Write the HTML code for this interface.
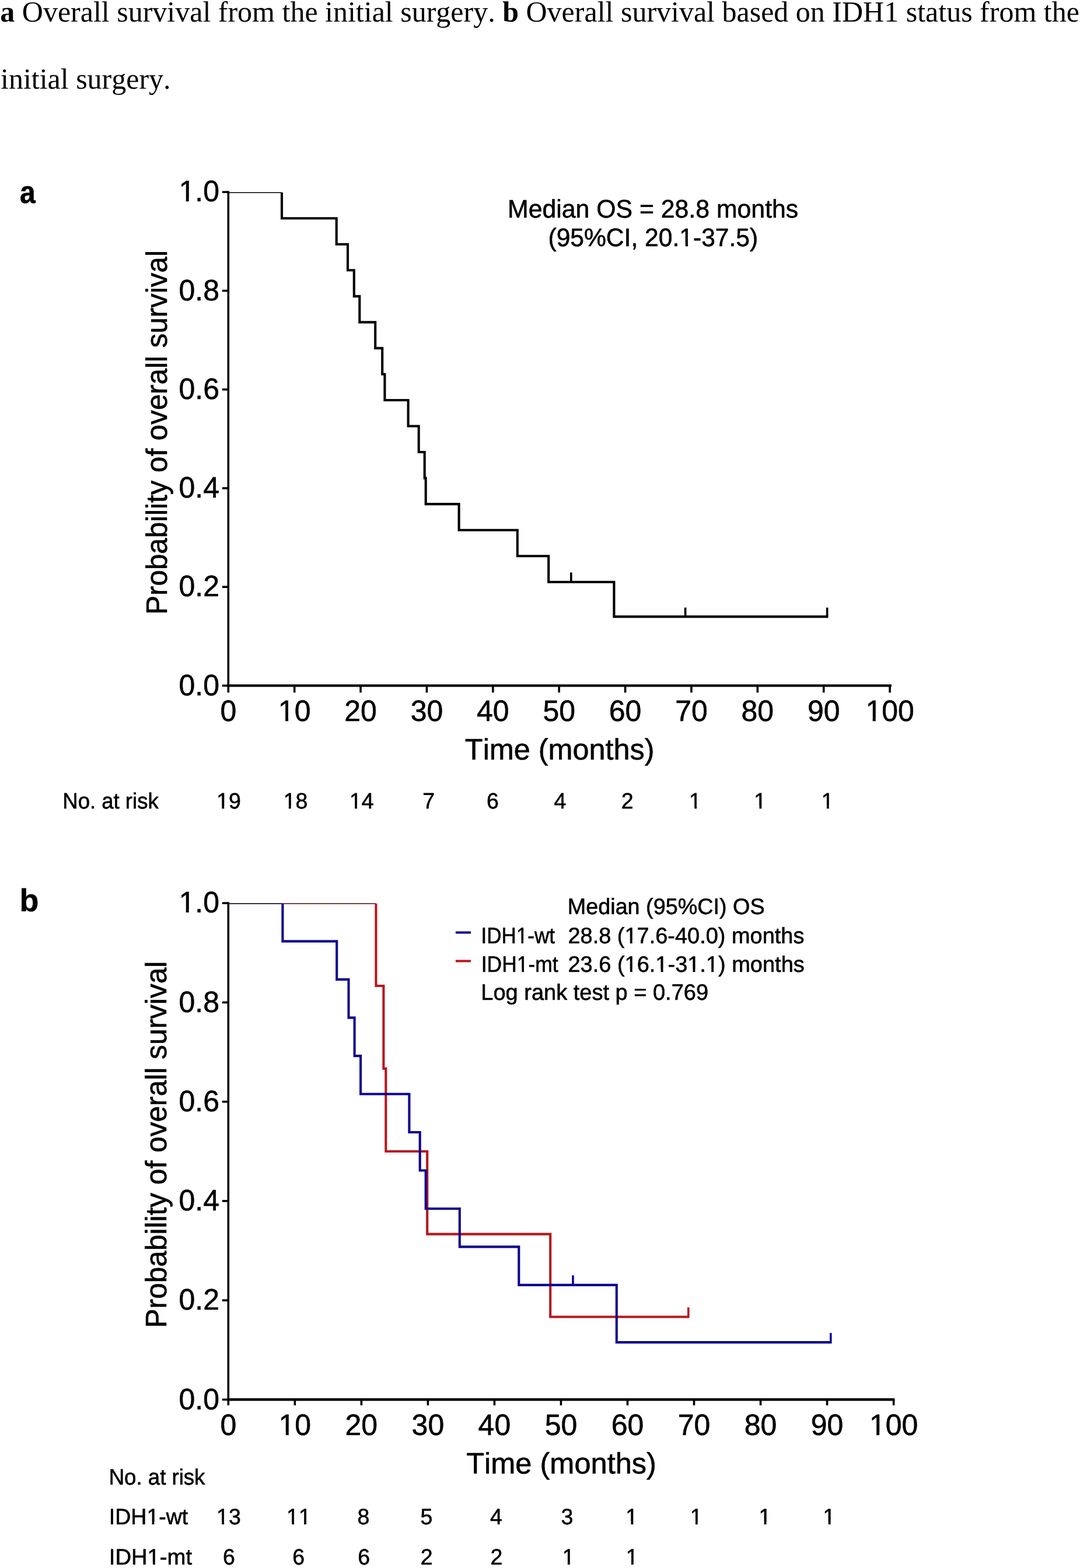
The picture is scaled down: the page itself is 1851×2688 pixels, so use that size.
<!DOCTYPE html>
<html><head><meta charset="utf-8"><title>Kaplan-Meier overall survival</title>
<style>
html,body{margin:0;padding:0;background:#fff;}
body{width:1851px;height:2688px;overflow:hidden;}
svg{display:block;font-kerning:none;text-rendering:geometricPrecision;}
</style></head>
<body>
<svg xmlns="http://www.w3.org/2000/svg" width="1851" height="2688" viewBox="0 0 1851 2688">
<rect width="1851" height="2688" fill="#fff"/>
<text x="0.3" y="36.7" font-family="'Liberation Serif', 'Times New Roman', Times, serif" font-size="50" fill="#000"><tspan font-weight="bold">a</tspan> Overall survival from the initial surgery. <tspan font-weight="bold">b</tspan> Overall survival based on IDH1 status from the</text>
<text x="1.0" y="151.7" font-family="'Liberation Serif', 'Times New Roman', Times, serif" font-size="50" fill="#000">initial surgery.</text>
<g font-family="'Liberation Sans', Arial, Helvetica, sans-serif" stroke="#000" stroke-width="0.6" stroke-linejoin="round">
<text transform="translate(34.09 348.00) scale(0.8891 1.0000)" font-size="54" font-weight="bold" fill="#000">a</text>
<text transform="translate(33.45 1561.90) scale(0.9959 1.0000)" font-size="54" font-weight="bold" fill="#000">b</text>
<line x1="391.30" y1="327.60" x2="391.30" y2="1177.40" stroke="#000" stroke-width="3.6" stroke-linecap="butt"/>
<line x1="389.50" y1="1175.40" x2="1527.90" y2="1175.40" stroke="#000" stroke-width="4.4" stroke-linecap="butt"/>
<line x1="380.80" y1="1175.40" x2="391.30" y2="1175.40" stroke="#000" stroke-width="3.6" stroke-linecap="butt"/>
<text transform="translate(306.44 1191.60) scale(1.0000 1.0150)" font-size="50" fill="#000">0.0</text>
<line x1="380.80" y1="1006.16" x2="391.30" y2="1006.16" stroke="#000" stroke-width="3.6" stroke-linecap="butt"/>
<text transform="translate(306.44 1022.36) scale(1.0000 1.0150)" font-size="50" fill="#000">0.2</text>
<line x1="380.80" y1="836.92" x2="391.30" y2="836.92" stroke="#000" stroke-width="3.6" stroke-linecap="butt"/>
<text transform="translate(306.44 853.12) scale(1.0000 1.0150)" font-size="50" fill="#000">0.4</text>
<line x1="380.80" y1="667.68" x2="391.30" y2="667.68" stroke="#000" stroke-width="3.6" stroke-linecap="butt"/>
<text transform="translate(306.44 683.88) scale(1.0000 1.0150)" font-size="50" fill="#000">0.6</text>
<line x1="380.80" y1="498.44" x2="391.30" y2="498.44" stroke="#000" stroke-width="3.6" stroke-linecap="butt"/>
<text transform="translate(306.44 514.64) scale(1.0000 1.0150)" font-size="50" fill="#000">0.8</text>
<line x1="380.80" y1="329.20" x2="391.30" y2="329.20" stroke="#000" stroke-width="3.6" stroke-linecap="butt"/>
<g transform="translate(306.44 345.40) scale(1.0000 1.0150)"><text font-size="50" fill="#000">1.0</text><rect x="2.21" y="-5.04" width="10.06" height="6.64" fill="#fff" stroke="none"/><rect x="17.29" y="-5.04" width="9.67" height="6.64" fill="#fff" stroke="none"/></g>
<line x1="391.30" y1="1175.40" x2="391.30" y2="1187.30" stroke="#000" stroke-width="3.6" stroke-linecap="butt"/>
<text transform="translate(377.40 1236.20) scale(1.0000 1.0150)" font-size="50" fill="#000">0</text>
<line x1="504.68" y1="1175.40" x2="504.68" y2="1187.30" stroke="#000" stroke-width="3.6" stroke-linecap="butt"/>
<g transform="translate(476.87 1236.20) scale(1.0000 1.0150)"><text font-size="50" fill="#000">10</text><rect x="2.21" y="-5.04" width="10.06" height="6.64" fill="#fff" stroke="none"/><rect x="17.29" y="-5.04" width="9.67" height="6.64" fill="#fff" stroke="none"/></g>
<line x1="618.06" y1="1175.40" x2="618.06" y2="1187.30" stroke="#000" stroke-width="3.6" stroke-linecap="butt"/>
<text transform="translate(590.25 1236.20) scale(1.0000 1.0150)" font-size="50" fill="#000">20</text>
<line x1="731.44" y1="1175.40" x2="731.44" y2="1187.30" stroke="#000" stroke-width="3.6" stroke-linecap="butt"/>
<text transform="translate(703.63 1236.20) scale(1.0000 1.0150)" font-size="50" fill="#000">30</text>
<line x1="844.82" y1="1175.40" x2="844.82" y2="1187.30" stroke="#000" stroke-width="3.6" stroke-linecap="butt"/>
<text transform="translate(817.01 1236.20) scale(1.0000 1.0150)" font-size="50" fill="#000">40</text>
<line x1="958.20" y1="1175.40" x2="958.20" y2="1187.30" stroke="#000" stroke-width="3.6" stroke-linecap="butt"/>
<text transform="translate(930.39 1236.20) scale(1.0000 1.0150)" font-size="50" fill="#000">50</text>
<line x1="1071.58" y1="1175.40" x2="1071.58" y2="1187.30" stroke="#000" stroke-width="3.6" stroke-linecap="butt"/>
<text transform="translate(1043.77 1236.20) scale(1.0000 1.0150)" font-size="50" fill="#000">60</text>
<line x1="1184.96" y1="1175.40" x2="1184.96" y2="1187.30" stroke="#000" stroke-width="3.6" stroke-linecap="butt"/>
<text transform="translate(1157.15 1236.20) scale(1.0000 1.0150)" font-size="50" fill="#000">70</text>
<line x1="1298.34" y1="1175.40" x2="1298.34" y2="1187.30" stroke="#000" stroke-width="3.6" stroke-linecap="butt"/>
<text transform="translate(1270.53 1236.20) scale(1.0000 1.0150)" font-size="50" fill="#000">80</text>
<line x1="1411.72" y1="1175.40" x2="1411.72" y2="1187.30" stroke="#000" stroke-width="3.6" stroke-linecap="butt"/>
<text transform="translate(1383.91 1236.20) scale(1.0000 1.0150)" font-size="50" fill="#000">90</text>
<line x1="1525.10" y1="1175.40" x2="1525.10" y2="1187.30" stroke="#000" stroke-width="3.6" stroke-linecap="butt"/>
<g transform="translate(1483.39 1236.20) scale(1.0000 1.0150)"><text font-size="50" fill="#000">100</text><rect x="2.21" y="-5.04" width="10.06" height="6.64" fill="#fff" stroke="none"/><rect x="17.29" y="-5.04" width="9.67" height="6.64" fill="#fff" stroke="none"/></g>
<text transform="translate(796.87 1302.00) scale(1.0074 1.0150)" font-size="50" fill="#000">Time (months)</text>
<text transform="translate(285.50 1053.84) rotate(-90) scale(0.9860 1.0150)" font-size="50" fill="#000">Probability of overall survival</text>
<line x1="391.30" y1="330.20" x2="483.00" y2="330.20" stroke="#000" stroke-width="1.6" stroke-linecap="butt"/>
<path d="M483.00 329.90 L483.00 329.90 L483.00 374.24 L576.70 374.24 L576.70 418.77 L596.00 418.77 L596.00 463.31 L606.80 463.31 L606.80 507.85 L616.30 507.85 L616.30 552.38 L643.20 552.38 L643.20 596.92 L655.20 596.92 L655.20 641.46 L659.40 641.46 L659.40 685.99 L699.60 685.99 L699.60 730.53 L717.70 730.53 L717.70 775.07 L727.70 775.07 L727.70 819.61 L729.70 819.61 L729.70 864.14 L786.60 864.14 L786.60 908.68 L886.80 908.68 L886.80 953.22 L940.20 953.22 L940.20 997.75 L1052.40 997.75 L1052.40 1057.14 L1417.70 1057.14" fill="none" stroke="#000" stroke-width="4.1" stroke-linejoin="miter" stroke-linecap="butt"/>
<line x1="978.80" y1="997.75" x2="978.80" y2="981.50" stroke="#000" stroke-width="3.6" stroke-linecap="butt"/>
<line x1="1174.60" y1="1057.14" x2="1174.60" y2="1041.60" stroke="#000" stroke-width="3.6" stroke-linecap="butt"/>
<line x1="1417.70" y1="1059.19" x2="1417.70" y2="1041.60" stroke="#000" stroke-width="3.6" stroke-linecap="butt"/>
<text transform="translate(869.99 373.30) scale(0.9950 1.0150)" font-size="43" fill="#000">Median OS = 28.8 months</text>
<g transform="translate(939.46 422.20) scale(0.9903 1.0150)"><text font-size="43" fill="#000">(95%CI, 20.1-37.5)</text><rect x="228.73" y="-4.51" width="8.84" height="6.11" fill="#fff" stroke="none"/><rect x="241.97" y="-4.51" width="8.50" height="6.11" fill="#fff" stroke="none"/></g>
<text transform="translate(107.30 1385.80) scale(0.9737 1.0150)" font-size="37.5" fill="#000">No. at risk</text>
<g transform="translate(371.18 1385.80) scale(1.0000 1.0150)"><text font-size="37.5" fill="#000">19</text><rect x="1.26" y="-4.10" width="7.87" height="5.70" fill="#fff" stroke="none"/><rect x="13.04" y="-4.10" width="7.58" height="5.70" fill="#fff" stroke="none"/></g>
<g transform="translate(485.66 1385.80) scale(1.0000 1.0150)"><text font-size="37.5" fill="#000">18</text><rect x="1.26" y="-4.10" width="7.87" height="5.70" fill="#fff" stroke="none"/><rect x="13.04" y="-4.10" width="7.58" height="5.70" fill="#fff" stroke="none"/></g>
<g transform="translate(598.89 1385.80) scale(1.0000 1.0150)"><text font-size="37.5" fill="#000">14</text><rect x="1.26" y="-4.10" width="7.87" height="5.70" fill="#fff" stroke="none"/><rect x="13.04" y="-4.10" width="7.58" height="5.70" fill="#fff" stroke="none"/></g>
<text transform="translate(724.20 1385.80) scale(1.0000 1.0150)" font-size="37.5" fill="#000">7</text>
<text transform="translate(834.04 1385.80) scale(1.0000 1.0150)" font-size="37.5" fill="#000">6</text>
<text transform="translate(949.44 1385.80) scale(1.0000 1.0150)" font-size="37.5" fill="#000">4</text>
<text transform="translate(1064.67 1385.80) scale(1.0000 1.0150)" font-size="37.5" fill="#000">2</text>
<g transform="translate(1181.07 1385.80) scale(1.0000 1.0150)"><text font-size="37.5" fill="#000">1</text><rect x="1.26" y="-4.10" width="7.87" height="5.70" fill="#fff" stroke="none"/><rect x="13.04" y="-4.10" width="7.58" height="5.70" fill="#fff" stroke="none"/></g>
<g transform="translate(1292.37 1385.80) scale(1.0000 1.0150)"><text font-size="37.5" fill="#000">1</text><rect x="1.26" y="-4.10" width="7.87" height="5.70" fill="#fff" stroke="none"/><rect x="13.04" y="-4.10" width="7.58" height="5.70" fill="#fff" stroke="none"/></g>
<g transform="translate(1407.72 1385.80) scale(1.0000 1.0150)"><text font-size="37.5" fill="#000">1</text><rect x="1.26" y="-4.10" width="7.87" height="5.70" fill="#fff" stroke="none"/><rect x="13.04" y="-4.10" width="7.58" height="5.70" fill="#fff" stroke="none"/></g>
<line x1="391.30" y1="1546.60" x2="391.30" y2="2401.30" stroke="#000" stroke-width="3.6" stroke-linecap="butt"/>
<line x1="389.50" y1="2399.30" x2="1533.40" y2="2399.30" stroke="#000" stroke-width="4.4" stroke-linecap="butt"/>
<line x1="380.80" y1="2399.30" x2="391.30" y2="2399.30" stroke="#000" stroke-width="3.6" stroke-linecap="butt"/>
<text transform="translate(306.44 2415.50) scale(1.0000 1.0150)" font-size="50" fill="#000">0.0</text>
<line x1="380.80" y1="2229.08" x2="391.30" y2="2229.08" stroke="#000" stroke-width="3.6" stroke-linecap="butt"/>
<text transform="translate(306.44 2245.28) scale(1.0000 1.0150)" font-size="50" fill="#000">0.2</text>
<line x1="380.80" y1="2058.86" x2="391.30" y2="2058.86" stroke="#000" stroke-width="3.6" stroke-linecap="butt"/>
<text transform="translate(306.44 2075.06) scale(1.0000 1.0150)" font-size="50" fill="#000">0.4</text>
<line x1="380.80" y1="1888.64" x2="391.30" y2="1888.64" stroke="#000" stroke-width="3.6" stroke-linecap="butt"/>
<text transform="translate(306.44 1904.84) scale(1.0000 1.0150)" font-size="50" fill="#000">0.6</text>
<line x1="380.80" y1="1718.42" x2="391.30" y2="1718.42" stroke="#000" stroke-width="3.6" stroke-linecap="butt"/>
<text transform="translate(306.44 1734.62) scale(1.0000 1.0150)" font-size="50" fill="#000">0.8</text>
<line x1="380.80" y1="1548.20" x2="391.30" y2="1548.20" stroke="#000" stroke-width="3.6" stroke-linecap="butt"/>
<g transform="translate(306.44 1564.40) scale(1.0000 1.0150)"><text font-size="50" fill="#000">1.0</text><rect x="2.21" y="-5.04" width="10.06" height="6.64" fill="#fff" stroke="none"/><rect x="17.29" y="-5.04" width="9.67" height="6.64" fill="#fff" stroke="none"/></g>
<line x1="391.30" y1="2399.30" x2="391.30" y2="2409.20" stroke="#000" stroke-width="3.6" stroke-linecap="butt"/>
<text transform="translate(377.40 2460.00) scale(1.0000 1.0150)" font-size="50" fill="#000">0</text>
<line x1="505.33" y1="2399.30" x2="505.33" y2="2409.20" stroke="#000" stroke-width="3.6" stroke-linecap="butt"/>
<g transform="translate(477.52 2460.00) scale(1.0000 1.0150)"><text font-size="50" fill="#000">10</text><rect x="2.21" y="-5.04" width="10.06" height="6.64" fill="#fff" stroke="none"/><rect x="17.29" y="-5.04" width="9.67" height="6.64" fill="#fff" stroke="none"/></g>
<line x1="619.36" y1="2399.30" x2="619.36" y2="2409.20" stroke="#000" stroke-width="3.6" stroke-linecap="butt"/>
<text transform="translate(591.55 2460.00) scale(1.0000 1.0150)" font-size="50" fill="#000">20</text>
<line x1="733.39" y1="2399.30" x2="733.39" y2="2409.20" stroke="#000" stroke-width="3.6" stroke-linecap="butt"/>
<text transform="translate(705.58 2460.00) scale(1.0000 1.0150)" font-size="50" fill="#000">30</text>
<line x1="847.42" y1="2399.30" x2="847.42" y2="2409.20" stroke="#000" stroke-width="3.6" stroke-linecap="butt"/>
<text transform="translate(819.61 2460.00) scale(1.0000 1.0150)" font-size="50" fill="#000">40</text>
<line x1="961.45" y1="2399.30" x2="961.45" y2="2409.20" stroke="#000" stroke-width="3.6" stroke-linecap="butt"/>
<text transform="translate(933.64 2460.00) scale(1.0000 1.0150)" font-size="50" fill="#000">50</text>
<line x1="1075.48" y1="2399.30" x2="1075.48" y2="2409.20" stroke="#000" stroke-width="3.6" stroke-linecap="butt"/>
<text transform="translate(1047.67 2460.00) scale(1.0000 1.0150)" font-size="50" fill="#000">60</text>
<line x1="1189.51" y1="2399.30" x2="1189.51" y2="2409.20" stroke="#000" stroke-width="3.6" stroke-linecap="butt"/>
<text transform="translate(1161.70 2460.00) scale(1.0000 1.0150)" font-size="50" fill="#000">70</text>
<line x1="1303.54" y1="2399.30" x2="1303.54" y2="2409.20" stroke="#000" stroke-width="3.6" stroke-linecap="butt"/>
<text transform="translate(1275.73 2460.00) scale(1.0000 1.0150)" font-size="50" fill="#000">80</text>
<line x1="1417.57" y1="2399.30" x2="1417.57" y2="2409.20" stroke="#000" stroke-width="3.6" stroke-linecap="butt"/>
<text transform="translate(1389.76 2460.00) scale(1.0000 1.0150)" font-size="50" fill="#000">90</text>
<line x1="1531.60" y1="2399.30" x2="1531.60" y2="2409.20" stroke="#000" stroke-width="3.6" stroke-linecap="butt"/>
<g transform="translate(1489.89 2460.00) scale(1.0000 1.0150)"><text font-size="50" fill="#000">100</text><rect x="2.21" y="-5.04" width="10.06" height="6.64" fill="#fff" stroke="none"/><rect x="17.29" y="-5.04" width="9.67" height="6.64" fill="#fff" stroke="none"/></g>
<text transform="translate(799.16 2525.90) scale(1.0109 1.0150)" font-size="50" fill="#000">Time (months)</text>
<text transform="translate(285.30 2276.47) rotate(-90) scale(0.9923 1.0150)" font-size="50" fill="#000">Probability of overall survival</text>
<line x1="484.40" y1="1549.20" x2="644.40" y2="1549.20" stroke="#6e2626" stroke-width="1.8" stroke-linecap="butt"/>
<path d="M644.40 1549.00 L644.40 1549.00 L644.40 1690.05 L657.40 1690.05 L657.40 1831.90 L661.30 1831.90 L661.30 1973.75 L732.20 1973.75 L732.20 2115.60 L943.20 2115.60 L943.20 2257.45 L1179.80 2257.45" fill="none" stroke="#b8171b" stroke-width="4.1" stroke-linejoin="miter" stroke-linecap="butt"/>
<line x1="1179.80" y1="2259.50" x2="1179.80" y2="2241.30" stroke="#b8171b" stroke-width="3.6" stroke-linecap="butt"/>
<line x1="391.30" y1="1549.20" x2="484.40" y2="1549.20" stroke="#14123e" stroke-width="1.8" stroke-linecap="butt"/>
<path d="M484.40 1549.00 L484.40 1549.00 L484.40 1613.67 L577.20 1613.67 L577.20 1679.14 L597.50 1679.14 L597.50 1744.61 L607.60 1744.61 L607.60 1810.08 L618.10 1810.08 L618.10 1875.55 L701.40 1875.55 L701.40 1941.02 L719.70 1941.02 L719.70 2006.48 L729.70 2006.48 L729.70 2071.95 L787.80 2071.95 L787.80 2137.42 L889.30 2137.42 L889.30 2202.89 L1056.80 2202.89 L1056.80 2301.08 L1423.80 2301.08" fill="none" stroke="#0d0490" stroke-width="4.1" stroke-linejoin="miter" stroke-linecap="butt"/>
<line x1="982.00" y1="2202.89" x2="982.00" y2="2186.30" stroke="#0d0490" stroke-width="3.6" stroke-linecap="butt"/>
<line x1="1423.80" y1="2303.13" x2="1423.80" y2="2285.10" stroke="#0d0490" stroke-width="3.6" stroke-linecap="butt"/>
<line x1="780.90" y1="1598.60" x2="807.00" y2="1598.60" stroke="#0d0490" stroke-width="4.0" stroke-linecap="butt"/>
<line x1="780.90" y1="1647.50" x2="807.00" y2="1647.50" stroke="#b8171b" stroke-width="4.0" stroke-linecap="butt"/>
<text transform="translate(972.80 1567.20) scale(0.9988 1.0150)" font-size="37.8" fill="#000">Median (95%CI) OS</text>
<g transform="translate(824.57 1616.50) scale(0.9266 1.0150)"><text font-size="37.8" fill="#000">IDH1-wt</text><rect x="66.38" y="-4.12" width="7.93" height="5.72" fill="#fff" stroke="none"/><rect x="78.24" y="-4.12" width="7.63" height="5.72" fill="#fff" stroke="none"/></g>
<g transform="translate(973.49 1616.50) scale(1.0038 1.0150)"><text font-size="37.8" fill="#000">28.8 (17.6-40.0) months</text><rect x="97.94" y="-4.12" width="7.93" height="5.72" fill="#fff" stroke="none"/><rect x="109.81" y="-4.12" width="7.63" height="5.72" fill="#fff" stroke="none"/></g>
<g transform="translate(824.73 1665.50) scale(0.9370 1.0150)"><text font-size="37.8" fill="#000">IDH1-mt</text><rect x="66.38" y="-4.12" width="7.93" height="5.72" fill="#fff" stroke="none"/><rect x="78.24" y="-4.12" width="7.63" height="5.72" fill="#fff" stroke="none"/></g>
<g transform="translate(973.49 1665.50) scale(1.0046 1.0150)"><text font-size="37.8" fill="#000">23.6 (16.1-31.1) months</text><rect x="97.94" y="-4.12" width="7.93" height="5.72" fill="#fff" stroke="none"/><rect x="109.81" y="-4.12" width="7.63" height="5.72" fill="#fff" stroke="none"/><rect x="150.49" y="-4.12" width="7.93" height="5.72" fill="#fff" stroke="none"/><rect x="162.35" y="-4.12" width="7.63" height="5.72" fill="#fff" stroke="none"/><rect x="205.12" y="-4.12" width="7.93" height="5.72" fill="#fff" stroke="none"/><rect x="216.99" y="-4.12" width="7.63" height="5.72" fill="#fff" stroke="none"/><rect x="236.64" y="-4.12" width="7.93" height="5.72" fill="#fff" stroke="none"/><rect x="248.51" y="-4.12" width="7.63" height="5.72" fill="#fff" stroke="none"/></g>
<text transform="translate(824.28 1714.40) scale(1.0054 1.0150)" font-size="37.8" fill="#000">Log rank test p = 0.769</text>
<text transform="translate(186.70 2545.30) scale(0.9755 1.0150)" font-size="37.5" fill="#000">No. at risk</text>
<g transform="translate(186.84 2612.80) scale(0.9993 1.0150)"><text font-size="37.5" fill="#000">IDH1-wt</text><rect x="65.84" y="-4.10" width="7.87" height="5.70" fill="#fff" stroke="none"/><rect x="77.63" y="-4.10" width="7.58" height="5.70" fill="#fff" stroke="none"/></g>
<g transform="translate(186.77 2682.30) scale(1.0195 1.0150)"><text font-size="37.5" fill="#000">IDH1-mt</text><rect x="65.84" y="-4.10" width="7.87" height="5.70" fill="#fff" stroke="none"/><rect x="77.63" y="-4.10" width="7.58" height="5.70" fill="#fff" stroke="none"/></g>
<g transform="translate(371.11 2612.80) scale(1.0000 1.0150)"><text font-size="37.5" fill="#000">13</text><rect x="1.26" y="-4.10" width="7.87" height="5.70" fill="#fff" stroke="none"/><rect x="13.04" y="-4.10" width="7.58" height="5.70" fill="#fff" stroke="none"/></g>
<g transform="translate(491.10 2612.80) scale(1.0000 1.0150)"><text font-size="37.5" fill="#000">11</text><rect x="1.26" y="-4.10" width="7.87" height="5.70" fill="#fff" stroke="none"/><rect x="13.04" y="-4.10" width="7.58" height="5.70" fill="#fff" stroke="none"/><rect x="22.11" y="-4.10" width="7.87" height="5.70" fill="#fff" stroke="none"/><rect x="33.90" y="-4.10" width="7.58" height="5.70" fill="#fff" stroke="none"/></g>
<text transform="translate(612.57 2612.80) scale(1.0000 1.0150)" font-size="37.5" fill="#000">8</text>
<text transform="translate(720.56 2612.80) scale(1.0000 1.0150)" font-size="37.5" fill="#000">5</text>
<text transform="translate(839.89 2612.80) scale(1.0000 1.0150)" font-size="37.5" fill="#000">4</text>
<text transform="translate(961.58 2612.80) scale(1.0000 1.0150)" font-size="37.5" fill="#000">3</text>
<g transform="translate(1072.32 2612.80) scale(1.0000 1.0150)"><text font-size="37.5" fill="#000">1</text><rect x="1.26" y="-4.10" width="7.87" height="5.70" fill="#fff" stroke="none"/><rect x="13.04" y="-4.10" width="7.58" height="5.70" fill="#fff" stroke="none"/></g>
<g transform="translate(1182.77 2612.80) scale(1.0000 1.0150)"><text font-size="37.5" fill="#000">1</text><rect x="1.26" y="-4.10" width="7.87" height="5.70" fill="#fff" stroke="none"/><rect x="13.04" y="-4.10" width="7.58" height="5.70" fill="#fff" stroke="none"/></g>
<g transform="translate(1300.47 2612.80) scale(1.0000 1.0150)"><text font-size="37.5" fill="#000">1</text><rect x="1.26" y="-4.10" width="7.87" height="5.70" fill="#fff" stroke="none"/><rect x="13.04" y="-4.10" width="7.58" height="5.70" fill="#fff" stroke="none"/></g>
<g transform="translate(1410.57 2612.80) scale(1.0000 1.0150)"><text font-size="37.5" fill="#000">1</text><rect x="1.26" y="-4.10" width="7.87" height="5.70" fill="#fff" stroke="none"/><rect x="13.04" y="-4.10" width="7.58" height="5.70" fill="#fff" stroke="none"/></g>
<text transform="translate(382.09 2682.30) scale(1.0000 1.0150)" font-size="37.5" fill="#000">6</text>
<text transform="translate(501.34 2682.30) scale(1.0000 1.0150)" font-size="37.5" fill="#000">6</text>
<text transform="translate(613.29 2682.30) scale(1.0000 1.0150)" font-size="37.5" fill="#000">6</text>
<text transform="translate(720.87 2682.30) scale(1.0000 1.0150)" font-size="37.5" fill="#000">2</text>
<text transform="translate(840.42 2682.30) scale(1.0000 1.0150)" font-size="37.5" fill="#000">2</text>
<g transform="translate(963.72 2682.30) scale(1.0000 1.0150)"><text font-size="37.5" fill="#000">1</text><rect x="1.26" y="-4.10" width="7.87" height="5.70" fill="#fff" stroke="none"/><rect x="13.04" y="-4.10" width="7.58" height="5.70" fill="#fff" stroke="none"/></g>
<g transform="translate(1072.82 2682.30) scale(1.0000 1.0150)"><text font-size="37.5" fill="#000">1</text><rect x="1.26" y="-4.10" width="7.87" height="5.70" fill="#fff" stroke="none"/><rect x="13.04" y="-4.10" width="7.58" height="5.70" fill="#fff" stroke="none"/></g>
</g>
</svg>
</body></html>
